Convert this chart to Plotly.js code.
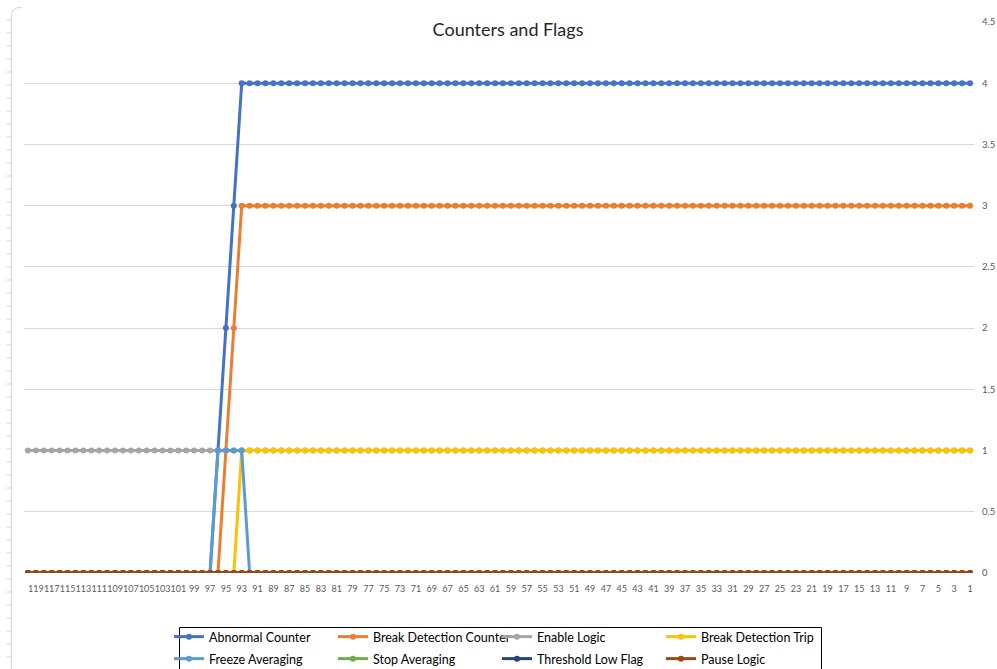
<!DOCTYPE html>
<html>
<head>
<meta charset="utf-8">
<script src="https://cdn.plot.ly/plotly-3.0.1.min.js"></script>
<style>
  html, body { margin: 0; padding: 0; background: #ffffff; }
  #chart { width: 997px; height: 669px; }
</style>
</head>
<body>
<div id="chart"></div>
<script>
// ---- categories (read right-to-left on the reference: 120 ... 1) ----
var categories = [
  "120","119","118","117","116","115","114","113","112","111",
  "110","109","108","107","106","105","104","103","102","101",
  "100","99","98","97","96","95","94","93","92","91",
  "90","89","88","87","86","85","84","83","82","81",
  "80","79","78","77","76","75","74","73","72","71",
  "70","69","68","67","66","65","64","63","62","61",
  "60","59","58","57","56","55","54","53","52","51",
  "50","49","48","47","46","45","44","43","42","41",
  "40","39","38","37","36","35","34","33","32","31",
  "30","29","28","27","26","25","24","23","22","21",
  "20","19","18","17","16","15","14","13","12","11",
  "10","9","8","7","6","5","4","3","2","1"
];

var tickLabels = [
  "119","117","115","113","111","109","107","105","103","101",
  "99","97","95","93","91","89","87","85","83","81",
  "79","77","75","73","71","69","67","65","63","61",
  "59","57","55","53","51","49","47","45","43","41",
  "39","37","35","33","31","29","27","25","23","21",
  "19","17","15","13","11","9","7","5","3","1"
];

var yTicks = [0, 0.5, 1, 1.5, 2, 2.5, 3, 3.5, 4, 4.5];

// ---- series values ----
var abnormalCounter = [
  0,0,0,0,0,0,0,0,0,0,
  0,0,0,0,0,0,0,0,0,0,
  0,0,0,0,1,2,3,4,4,4,
  4,4,4,4,4,4,4,4,4,4,
  4,4,4,4,4,4,4,4,4,4,
  4,4,4,4,4,4,4,4,4,4,
  4,4,4,4,4,4,4,4,4,4,
  4,4,4,4,4,4,4,4,4,4,
  4,4,4,4,4,4,4,4,4,4,
  4,4,4,4,4,4,4,4,4,4,
  4,4,4,4,4,4,4,4,4,4,
  4,4,4,4,4,4,4,4,4,4
];
var breakDetectionCounter = [
  0,0,0,0,0,0,0,0,0,0,
  0,0,0,0,0,0,0,0,0,0,
  0,0,0,0,0,1,2,3,3,3,
  3,3,3,3,3,3,3,3,3,3,
  3,3,3,3,3,3,3,3,3,3,
  3,3,3,3,3,3,3,3,3,3,
  3,3,3,3,3,3,3,3,3,3,
  3,3,3,3,3,3,3,3,3,3,
  3,3,3,3,3,3,3,3,3,3,
  3,3,3,3,3,3,3,3,3,3,
  3,3,3,3,3,3,3,3,3,3,
  3,3,3,3,3,3,3,3,3,3
];
var enableLogic = [
  1,1,1,1,1,1,1,1,1,1,
  1,1,1,1,1,1,1,1,1,1,
  1,1,1,1,1,1,1,1,1,1,
  1,1,1,1,1,1,1,1,1,1,
  1,1,1,1,1,1,1,1,1,1,
  1,1,1,1,1,1,1,1,1,1,
  1,1,1,1,1,1,1,1,1,1,
  1,1,1,1,1,1,1,1,1,1,
  1,1,1,1,1,1,1,1,1,1,
  1,1,1,1,1,1,1,1,1,1,
  1,1,1,1,1,1,1,1,1,1,
  1,1,1,1,1,1,1,1,1,1
];
var breakDetectionTrip = [
  0,0,0,0,0,0,0,0,0,0,
  0,0,0,0,0,0,0,0,0,0,
  0,0,0,0,0,0,0,1,1,1,
  1,1,1,1,1,1,1,1,1,1,
  1,1,1,1,1,1,1,1,1,1,
  1,1,1,1,1,1,1,1,1,1,
  1,1,1,1,1,1,1,1,1,1,
  1,1,1,1,1,1,1,1,1,1,
  1,1,1,1,1,1,1,1,1,1,
  1,1,1,1,1,1,1,1,1,1,
  1,1,1,1,1,1,1,1,1,1,
  1,1,1,1,1,1,1,1,1,1
];
var freezeAveraging = [
  0,0,0,0,0,0,0,0,0,0,
  0,0,0,0,0,0,0,0,0,0,
  0,0,0,0,1,1,1,1,0,0,
  0,0,0,0,0,0,0,0,0,0,
  0,0,0,0,0,0,0,0,0,0,
  0,0,0,0,0,0,0,0,0,0,
  0,0,0,0,0,0,0,0,0,0,
  0,0,0,0,0,0,0,0,0,0,
  0,0,0,0,0,0,0,0,0,0,
  0,0,0,0,0,0,0,0,0,0,
  0,0,0,0,0,0,0,0,0,0,
  0,0,0,0,0,0,0,0,0,0
];
var stopAveraging = [
  0,0,0,0,0,0,0,0,0,0,
  0,0,0,0,0,0,0,0,0,0,
  0,0,0,0,0,0,0,0,0,0,
  0,0,0,0,0,0,0,0,0,0,
  0,0,0,0,0,0,0,0,0,0,
  0,0,0,0,0,0,0,0,0,0,
  0,0,0,0,0,0,0,0,0,0,
  0,0,0,0,0,0,0,0,0,0,
  0,0,0,0,0,0,0,0,0,0,
  0,0,0,0,0,0,0,0,0,0,
  0,0,0,0,0,0,0,0,0,0,
  0,0,0,0,0,0,0,0,0,0
];
var thresholdLowFlag = [
  0,0,0,0,0,0,0,0,0,0,
  0,0,0,0,0,0,0,0,0,0,
  0,0,0,0,0,0,0,0,0,0,
  0,0,0,0,0,0,0,0,0,0,
  0,0,0,0,0,0,0,0,0,0,
  0,0,0,0,0,0,0,0,0,0,
  0,0,0,0,0,0,0,0,0,0,
  0,0,0,0,0,0,0,0,0,0,
  0,0,0,0,0,0,0,0,0,0,
  0,0,0,0,0,0,0,0,0,0,
  0,0,0,0,0,0,0,0,0,0,
  0,0,0,0,0,0,0,0,0,0
];
var pauseLogic = [
  0,0,0,0,0,0,0,0,0,0,
  0,0,0,0,0,0,0,0,0,0,
  0,0,0,0,0,0,0,0,0,0,
  0,0,0,0,0,0,0,0,0,0,
  0,0,0,0,0,0,0,0,0,0,
  0,0,0,0,0,0,0,0,0,0,
  0,0,0,0,0,0,0,0,0,0,
  0,0,0,0,0,0,0,0,0,0,
  0,0,0,0,0,0,0,0,0,0,
  0,0,0,0,0,0,0,0,0,0,
  0,0,0,0,0,0,0,0,0,0,
  0,0,0,0,0,0,0,0,0,0
];

var seriesNames = ["Abnormal Counter","Break Detection Counter","Enable Logic","Break Detection Trip",
                   "Freeze Averaging","Stop Averaging","Threshold Low Flag","Pause Logic"];
var seriesValues = [abnormalCounter, breakDetectionCounter, enableLogic, breakDetectionTrip,
                    freezeAveraging, stopAveraging, thresholdLowFlag, pauseLogic];
var seriesColors = ["#4472C4","#ED7D31","#A5A5A5","#FFC000","#5B9BD5","#70AD47","#264478","#9E480E"];

var traces = seriesNames.map(function (name, i) {
  return {
    type: "scatter",
    mode: "lines+markers",
    name: name,
    legend: i < 4 ? "legend" : "legend2",
    x: categories,
    y: seriesValues[i],
    line: { color: seriesColors[i], width: 3 },
    marker: { color: seriesColors[i], size: 6, symbol: "circle" },
    hoverinfo: "x+y+name"
  };
});

// ---- geometry of the plot area (px) ----
var L = 24, R = 23, T = 22, B = 96, W = 997 - L - R, H = 669 - T - B;
function px(x) { return (x - L) / W; }
function py(y) { return (669 - B - y) / H; }

// decorative left ruler frame + legend frame
var shapes = [];
var gray = "#D4D4D4";
shapes.push({
  type: "path", xref: "paper", yref: "paper", layer: "above",
  path: "M " + px(11.3) + "," + py(669) + " L " + px(11.3) + "," + py(16) +
        " Q " + px(11.3) + "," + py(7.5) + " " + px(20) + "," + py(7.5) +
        " L " + px(22) + "," + py(7.5),
  line: { color: gray, width: 1 }
});
for (var ty = 20; ty < 669; ty += 13) {
  shapes.push({
    type: "line", xref: "paper", yref: "paper",
    x0: px(6.5), x1: px(11.3), y0: py(ty), y1: py(ty),
    line: { color: gray, width: 1 }
  });
}
shapes.push({
  type: "rect", xref: "paper", yref: "paper", layer: "above",
  x0: px(179.5), x1: px(821.5), y0: py(627.5), y1: py(680),
  line: { color: "#000000", width: 1 }, fillcolor: "rgba(0,0,0,0)"
});

var legendCommon = {
  orientation: "h",
  x: px(169), xanchor: "left",
  yanchor: "middle",
  borderwidth: 0,
  bgcolor: "rgba(255,255,255,0)",
  font: { family: "Lato, 'Open Sans', sans-serif", size: 12.5, color: "#000000" },
  entrywidth: 119, entrywidthmode: "pixels",
  itemwidth: 30,
  traceorder: "normal"
};

var legend1 = Object.assign({}, legendCommon, { y: py(637) });
var legend2 = Object.assign({}, legendCommon, { y: py(659) });

var layout = {
  width: 997, height: 669,
  margin: { l: L, r: R, t: T, b: B, pad: 0, autoexpand: false },
  paper_bgcolor: "#ffffff",
  plot_bgcolor: "#ffffff",
  font: { family: "Lato, 'Open Sans', sans-serif", color: "#595959" },
  title: {
    text: "Counters and Flags",
    font: { family: "Lato, 'Open Sans', sans-serif", size: 18, color: "#262626" },
    x: 508 / 997, xanchor: "center", xref: "paper",
    y: 1 - 30 / 669, yanchor: "middle", yref: "container",
    automargin: false
  },
  showlegend: true,
  legend: legend1,
  legend2: legend2,
  xaxis: {
    type: "category",
    categoryorder: "array",
    categoryarray: categories,
    range: [-0.5, categories.length - 0.5],
    tickmode: "array",
    tickvals: tickLabels,
    ticktext: tickLabels,
    tickangle: 0,
    showgrid: false,
    zeroline: false,
    showline: false,
    ticks: "",
    tickfont: { size: 9, color: "#595959" },
    ticklabelstandoff: 9,
    automargin: false,
    fixedrange: true
  },
  yaxis: {
    side: "right",
    range: [0, 4.5],
    tickmode: "array",
    tickvals: yTicks,
    ticktext: yTicks.map(String),
    showgrid: true,
    gridcolor: "#D9D9D9",
    gridwidth: 1,
    zeroline: false,
    showline: false,
    ticks: "",
    tickfont: { size: 9.5, color: "#595959" },
    ticklabelstandoff: 7,
    automargin: false,
    fixedrange: true
  },
  shapes: shapes
};

Plotly.newPlot("chart", traces, layout, { displayModeBar: false, staticPlot: false });
</script>
</body>
</html>
